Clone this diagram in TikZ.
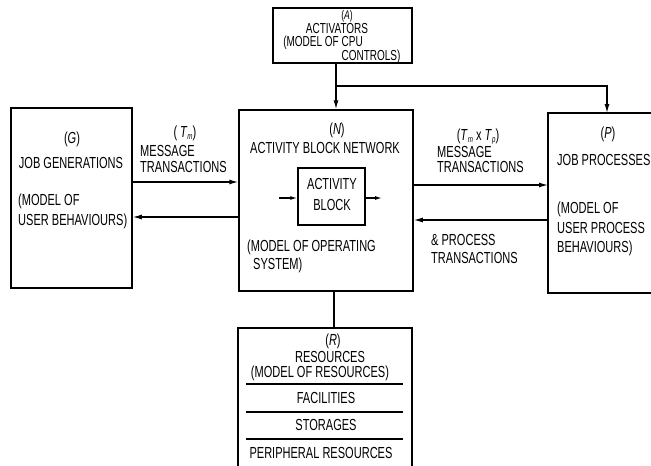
\documentclass[tikz,border=0pt]{standalone}
\usepackage{fontspec}
\setmainfont[FakeStretch=0.69]{Liberation Sans}
\usetikzlibrary{arrows.meta}
\newcommand\Tsb[1]{\textit{T}\raisebox{-0.35ex}{\small\textit{#1}}}
\begin{document}
\begin{tikzpicture}[x=1pt,y=-1pt,
  box/.style={draw,line width=1.5pt,inner sep=0pt},
  wire/.style={line width=1.2pt},
  arr/.style={wire,-{Latex[length=9pt,width=5pt]}},
  txt/.style={inner sep=0pt,font=\fontsize{16}{17}\selectfont},
  small/.style={font=\fontsize{14.5}{15}\selectfont},
  tiny/.style={font=\fontsize{12.5}{13}\selectfont},
  tc/.style={txt,anchor=base},
  tl/.style={txt,anchor=base west}]
\useasboundingbox (0,0) rectangle (651,466);
% boxes
\node[box,minimum width=139pt,minimum height=55pt] (A) at (342.5,35.5) {};
\node[box,minimum width=174pt,minimum height=181pt] (N) at (326,200.5) {};
\node[box,minimum width=121pt,minimum height=180pt] (G) at (71.5,198) {};
\node[box,minimum width=67pt,minimum height=57pt] (B) at (331.5,196.5) {};
\coordinate (Ptl) at (548,113);
\coordinate (Pbl) at (548,293);
\draw[line width=1.5pt] (651,113) -- (Ptl) -- (Pbl) -- (651,293);
\coordinate (Rtl) at (238,328);
\coordinate (Rtr) at (412,328);
\draw[line width=1.5pt] (238,466) -- (Rtl) -- (Rtr) -- (412,466);
\foreach \yy in {384,412,439} \draw[wire] (246,\yy) -- (403,\yy);
% connectors
\coordinate (J) at (336,86);
\coordinate (Ptop) at (607,113);
\draw[arr] (J |- A.south) -- (J |- N.north);
\draw[arr] (J) -- (J -| Ptop) -- (Ptop);
\draw[arr] (G.east |- 0,182) -- (N.west |- 0,182);
\draw[arr] (N.west |- 0,217) -- (G.east |- 0,217);
\draw[arr] (N.east |- 0,185) -- (Ptl |- 0,185);
\draw[arr] (Ptl |- 0,220) -- (N.east |- 0,220);
\draw[wire] (N.south -| 334,0) -- (Rtl -| 334,0);
\coordinate (Bi) at (279,198);
\coordinate (Bo) at (382,198);
\draw[arr,-{Latex[length=7pt,width=4pt]}] (Bi) -- (B.west |- Bi);
\draw[arr,-{Latex[length=7pt,width=4pt]}] (B.east |- Bo) -- (Bo);
% texts A
\node[tc,tiny] (a1) at (347,19) {(\textit{A})};
\node[tc,small] (a2) at (337,33) {ACTIVATORS};
\node[tc,small] (a3) at (323,46) {(MODEL OF CPU};
\node[tc,small] (a4) at (371,60) {CONTROLS)};
% G
\node[tc] (g1) at (72,143) {(\textit{G})};
\node[tc] (g2) at (71,168) {JOB GENERATIONS};
\node[tl] (g3) at (18,205) {(MODEL OF};
\node[tl] (g4) at (18,225) {USER BEHAVIOURS)};
% Tm label
\node[tc] (m1) at (185,137) {(\,\Tsb{m})};
\node[tl] (m2) at (140,156) {MESSAGE};
\node[tl] (m3) at (140,172) {TRANSACTIONS};
% N
\node[tc] (n1) at (337,134) {(\textit{N})};
\node[tc] (n2) at (325,153) {ACTIVITY BLOCK NETWORK};
\node[tc] (n3) at (332,189) {ACTIVITY};
\node[tc] (n4) at (332,210) {BLOCK};
\node[tl] (n5) at (247,251) {(MODEL OF OPERATING};
\node[tl] (n6) at (253,269) {SYSTEM)};
% Tm x Tp label
\node[tc] (p1) at (478,140) {(\Tsb{m} x \Tsb{p})};
\node[tl] (p2) at (437,157) {MESSAGE};
\node[tl] (p3) at (437,172) {TRANSACTIONS};
\node[tl] (p4) at (431,245) {\& PROCESS};
\node[tl] (p5) at (431,263) {TRANSACTIONS};
% P
\node[tc] (q1) at (608,138) {(\textit{P})};
\node[tl] (q2) at (557,165) {JOB PROCESSES};
\node[tl] (q3) at (557,213) {(MODEL OF};
\node[tl] (q4) at (557,233) {USER PROCESS};
\node[tl] (q5) at (557,252) {BEHAVIOURS)};
% R
\node[tc] (r1) at (333,345) {(\textit{R})};
\node[tc] (r2) at (330,362) {RESOURCES};
\node[tc] (r3) at (320,377) {(MODEL OF RESOURCES)};
\node[tc] (r4) at (326,403) {FACILITIES};
\node[tc] (r5) at (326,430) {STORAGES};
\node[tc] (r6) at (321,458) {PERIPHERAL RESOURCES};
\end{tikzpicture}
\end{document}
